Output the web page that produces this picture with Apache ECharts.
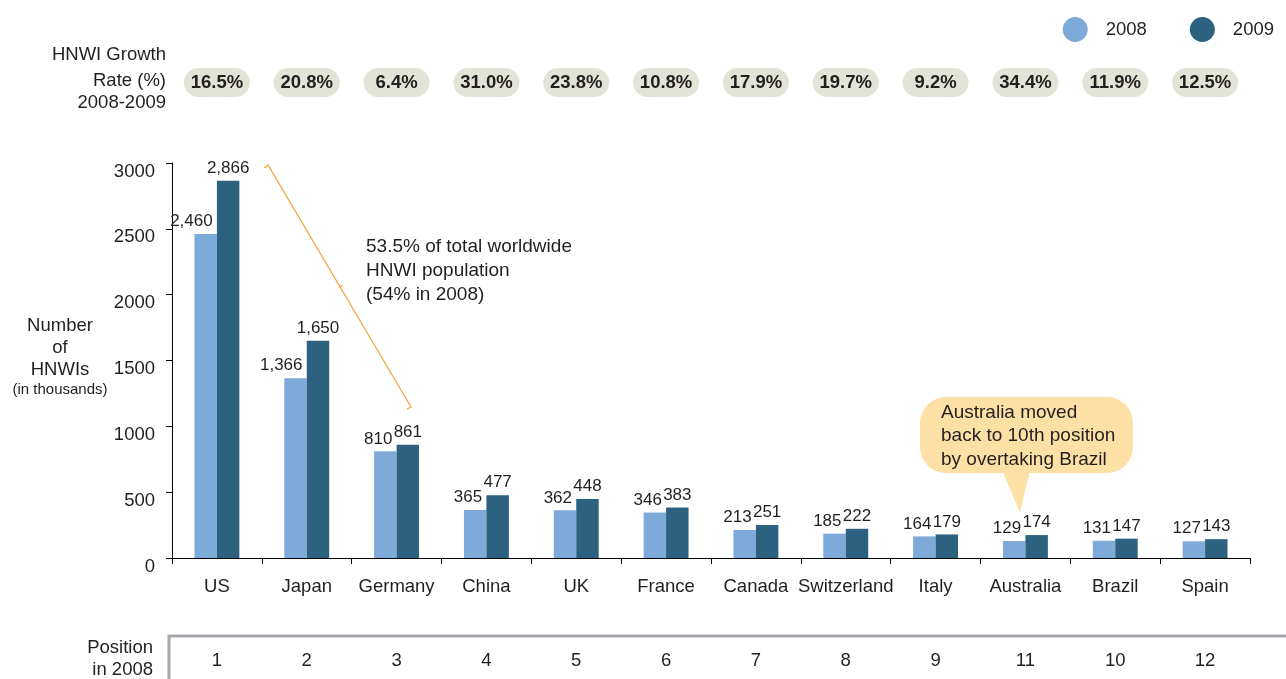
<!DOCTYPE html>
<html>
<head>
<meta charset="utf-8">
<script src="https://cdn.jsdelivr.net/npm/echarts@6/dist/echarts.min.js"></script>
<style>
html,body{margin:0;padding:0;background:#fff;}
#c{width:1286px;height:679px;}
</style>
</head>
<body>
<div id="c"></div>
<script>
const countries = ['US','Japan','Germany','China','UK','France','Canada','Switzerland','Italy','Australia','Brazil','Spain'];
const hnwi2008 = [2460,1366,810,365,362,346,213,185,164,129,131,127];
const hnwi2009 = [2866,1650,861,477,448,383,251,222,179,174,147,143];
const growthRate = ['16.5%','20.8%','6.4%','31.0%','23.8%','10.8%','17.9%','19.7%','9.2%','34.4%','11.9%','12.5%'];
const position2008 = ['1','2','3','4','5','6','7','8','9','11','10','12'];
const yTicks = [0,500,1000,1500,2000,2500,3000];

const FONT = '"Liberation Sans", Arial, Helvetica, sans-serif';
const TXT = '#231f20';
const C2008 = '#7eaad9';
const C2009 = '#2c627f';
const ORANGE = '#f5a03a';
const FS = 18.5;

const chart = echarts.init(document.getElementById('c'));
const fmt = v => Number(v).toLocaleString('en-US');
const t = (text, x, y, align, size) => ({type: 'text', style: {text, x, y, align: align || 'left', verticalAlign: 'middle', fontSize: size || FS, fill: TXT, fontFamily: FONT}});

chart.setOption({
  animation: false,
  textStyle: {fontFamily: FONT, color: TXT},
  legend: {
    right: 7, top: 12,
    icon: 'circle', itemWidth: 25, itemHeight: 25, itemGap: 43,
    textStyle: {fontSize: FS, color: TXT, fontFamily: FONT, padding: [0,0,0,13]},
    data: ['2008','2009']
  },
  grid: {left: 172, right: 36, top: 163, bottom: 121, containLabel: false},
  xAxis: [
    {
      type: 'category', data: countries, position: 'bottom',
      axisLine: {lineStyle: {color: '#000', width: 1}},
      axisTick: {show: true, length: 6, lineStyle: {color: '#000'}},
      axisLabel: {fontSize: FS, color: TXT, margin: 19, fontFamily: FONT, interval: 0}
    },
    {
      type: 'category', data: growthRate, position: 'top', offset: 65,
      axisLine: {show: false}, axisTick: {show: false},
      axisLabel: {
        interval: 0, margin: 6,
        formatter: v => '{p|' + v + '}',
        rich: {p: {backgroundColor: '#e3e4d8', borderRadius: 15, width: 54, align: 'center',
          padding: [5, 6], fontSize: FS, fontWeight: 'bold', color: TXT, fontFamily: FONT, lineHeight: 19}}
      }
    },
    {
      type: 'category', data: position2008, position: 'bottom', offset: 90,
      axisLine: {show: false}, axisTick: {show: false},
      axisLabel: {fontSize: FS, color: TXT, margin: 3, fontFamily: FONT, interval: 0}
    }
  ],
  yAxis: {
    type: 'value', min: yTicks[0], max: yTicks[yTicks.length-1], interval: 500,
    splitLine: {show: false},
    axisLine: {show: true, lineStyle: {color: '#000', width: 1}},
    axisTick: {show: true, length: 6, lineStyle: {color: '#000'}},
    axisLabel: {fontSize: FS, color: TXT, margin: 17, fontFamily: FONT, verticalAlign: 'top', lineHeight: 17,
      formatter: v => String(v)}
  },
  series: [
    {
      name: '2008', type: 'bar', data: hnwi2008, xAxisIndex: 0,
      barWidth: '25%', barGap: '0%',
      itemStyle: {color: C2008},
      label: {show: true, position: 'top', align: 'right', offset: [7, 0], distance: 4,
        fontSize: 17, color: TXT, fontFamily: FONT, formatter: p => fmt(p.value)}
    },
    {
      name: '2009', type: 'bar', data: hnwi2009, xAxisIndex: 0,
      barWidth: '25%', barGap: '0%',
      itemStyle: {color: C2009},
      label: {show: true, position: 'top', distance: 4,
        fontSize: 17, color: TXT, fontFamily: FONT, formatter: p => fmt(p.value)}
    }
  ],
  graphic: [
    t('HNWI Growth', 166, 55, 'right'),
    t('Rate (%)', 166, 81, 'right'),
    t('2008-2009', 166, 103, 'right'),
    t('Number', 60, 326, 'center'),
    t('of', 60, 348, 'center'),
    t('HNWIs', 60, 370, 'center'),
    t('(in thousands)', 60, 390, 'center', 15),
    t('Position', 153, 648, 'right'),
    t('in 2008', 153, 670, 'right'),
    {type: 'polyline', shape: {points: [[169, 680], [169, 636], [1290, 636]]}, style: {stroke: '#a3a6ab', lineWidth: 3, fill: null}},
    {type: 'polyline', shape: {points: [[264, 168], [268, 165], [411, 407], [407, 409]]}, style: {stroke: ORANGE, lineWidth: 1.2, fill: null}},
    {type: 'line', shape: {x1: 339, y1: 287, x2: 343, y2: 285}, style: {stroke: ORANGE, lineWidth: 1.2}},
    t('53.5% of total worldwide', 366, 247, 'left', 19),
    t('HNWI population', 366, 271, 'left', 19),
    t('(54% in 2008)', 366, 295, 'left', 19),
    {type: 'rect', shape: {x: 920, y: 397, width: 213, height: 76, r: 26}, style: {fill: '#fde0a6'}},
    {type: 'polygon', shape: {points: [[1002, 470], [1030, 470], [1020, 513]]}, style: {fill: '#fde0a6'}},
    t('Australia moved', 941, 413, 'left', 19),
    t('back to 10th position', 941, 436, 'left', 19),
    t('by overtaking Brazil', 941, 460, 'left', 19)
  ]
});
</script>
</body>
</html>
